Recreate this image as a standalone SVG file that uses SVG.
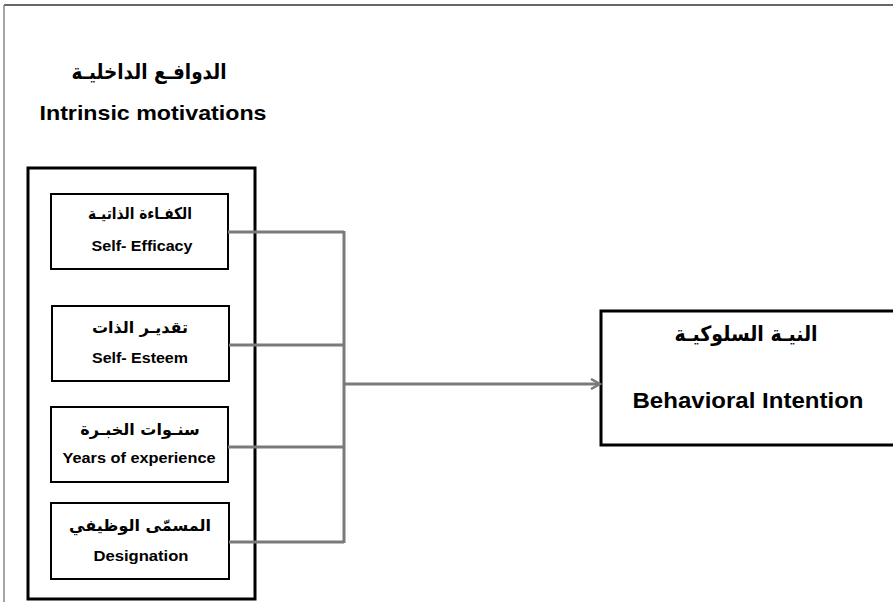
<svg xmlns="http://www.w3.org/2000/svg" width="893" height="602" viewBox="0 0 893 602">
<defs>
<style>
.en{font-family:"Liberation Sans","DejaVu Sans",sans-serif;font-weight:bold;fill:#000;text-anchor:middle}
.ar{font-family:"DejaVu Sans","Noto Sans",sans-serif;font-weight:bold;fill:#000;text-anchor:middle}
.box{fill:#fff;stroke:#000;stroke-width:2}
.conn{fill:none;stroke:#7a7a7a;stroke-width:3}
</style>
<marker id="arr" markerWidth="12" markerHeight="12" refX="10" refY="6" orient="auto" markerUnits="userSpaceOnUse">
<path d="M1,1 L10,6 L1,11" fill="none" stroke="#7a7a7a" stroke-width="2.5"/>
</marker>
</defs>
<rect width="893" height="602" fill="#fff"/>
<line x1="4" y1="5" x2="893" y2="5" stroke="#333" stroke-width="1.5"/>
<line x1="4" y1="5" x2="4" y2="602" stroke="#888" stroke-width="1.5"/>
<g id="title">
<text class="ar" x="149" y="79" font-size="21" textLength="155" lengthAdjust="spacingAndGlyphs">الدوافـع الداخليـة</text>
<text class="en" x="153" y="120" font-size="21" textLength="227" lengthAdjust="spacingAndGlyphs">Intrinsic motivations</text>
</g>
<g id="group">
<rect x="28" y="168" width="227" height="431" fill="none" stroke="#000" stroke-width="3"/>
</g>
<g id="self-efficacy">
<rect class="box" x="51" y="194" width="177" height="75"/>
<text class="ar" x="140" y="219" font-size="16" textLength="104" lengthAdjust="spacingAndGlyphs">الكفـاءة الذاتيـة</text>
<text class="en" x="142" y="251" font-size="14" textLength="101" lengthAdjust="spacingAndGlyphs">Self- Efficacy</text>
</g>
<g id="self-esteem">
<rect class="box" x="52" y="306" width="177" height="75"/>
<text class="ar" x="140" y="333" font-size="16">تقديـر الذات</text>
<text class="en" x="140" y="363" font-size="14" textLength="96" lengthAdjust="spacingAndGlyphs">Self- Esteem</text>
</g>
<g id="years">
<rect class="box" x="51" y="407" width="177" height="75"/>
<text class="ar" x="140" y="435" font-size="16">سنـوات الخبـرة</text>
<text class="en" x="139" y="463" font-size="14" textLength="153" lengthAdjust="spacingAndGlyphs">Years of experience</text>
</g>
<g id="designation">
<rect class="box" x="51" y="503" width="178" height="76"/>
<text class="ar" x="140" y="531" font-size="16">المسمّى الوظيفي</text>
<text class="en" x="141" y="561" font-size="14" textLength="95" lengthAdjust="spacingAndGlyphs">Designation</text>
</g>
<g id="intention">
<rect x="601" y="311" width="300" height="134" fill="#fff" stroke="#000" stroke-width="3"/>
<text class="ar" x="746" y="341" font-size="21" textLength="143" lengthAdjust="spacingAndGlyphs">النيـة السلوكيـة</text>
<text class="en" x="748" y="408" font-size="22" textLength="231" lengthAdjust="spacingAndGlyphs">Behavioral Intention</text>
</g>
<g id="connectors">
<path class="conn" d="M228,232 H344 M229,345 H344 M228,447 H344 M229,542 H344 M344,231 V543"/>
<path class="conn" d="M344,384 H600" marker-end="url(#arr)"/>
</g>
</svg>
